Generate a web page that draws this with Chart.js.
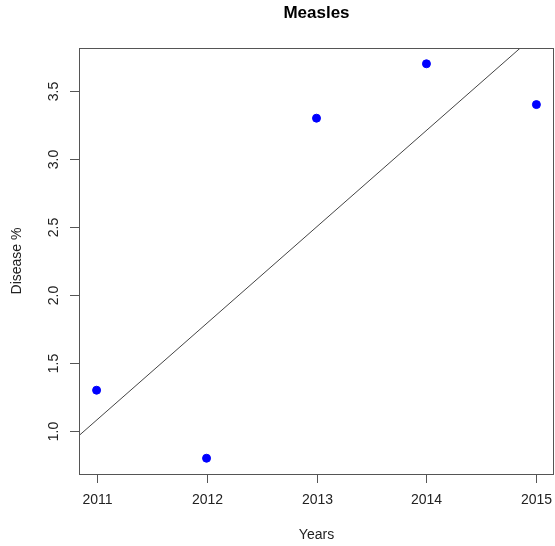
<!DOCTYPE html>
<html lang="en">
<head>
<meta charset="UTF-8">
<title>Measles</title>
<script src="https://cdn.jsdelivr.net/npm/chart.js@4.4.0/dist/chart.umd.min.js"></script>
<style>
    body { margin: 0; background: #fff; }
    canvas { display: block; }
</style>
</head>
<body>
<canvas id="chart" width="555" height="546"></canvas>
<script>
    // data
    var years = [2011, 2012, 2013, 2014, 2015];
    var diseasePct = [1.3, 0.8, 3.3, 3.7, 3.4];
    var xTicks = [2011, 2012, 2013, 2014, 2015];
    var yTicks = [1.0, 1.5, 2.0, 2.5, 3.0, 3.5];
    var titleText = "Measles";
    var xTitle = "Years";
    var yTitle = "Disease %";

    var FONT = '"Liberation Sans", Arial, sans-serif';

    // R style axis range: data range padded by 4% each side
    function padRange(arr) {
        var lo = Math.min.apply(null, arr), hi = Math.max.apply(null, arr);
        var d = (hi - lo) * 0.04;
        return [lo - d, hi + d];
    }
    var xr = padRange(years), yr = padRange(diseasePct);

    // least squares fit, like abline(lm(y ~ x))
    function fit(xs, ys) {
        var n = xs.length, mx = 0, my = 0;
        for (var i = 0; i < n; i++) { mx += xs[i]; my += ys[i]; }
        mx /= n; my /= n;
        var sxy = 0, sxx = 0;
        for (i = 0; i < n; i++) {
            sxy += (xs[i] - mx) * (ys[i] - my);
            sxx += (xs[i] - mx) * (xs[i] - mx);
        }
        var b = sxy / sxx;
        return {a: my - b * mx, b: b};
    }
    var lm = fit(years, diseasePct);
    var fitPoints = [xr[0], xr[1]].map(function (x) { return {x: x, y: lm.a + lm.b * x}; });

    var points = years.map(function (y, i) { return {x: y, y: diseasePct[i]}; });

    var rAxes = {
        id: 'rAxes',
        afterDraw: function (chart) {
            var ctx = chart.ctx, a = chart.chartArea;
            var xs = chart.scales.x, ys = chart.scales.y;
            ctx.save();
            ctx.strokeStyle = '#555';
            ctx.lineWidth = 1;
            ctx.strokeRect(Math.round(a.left) + 0.5, Math.round(a.top) + 0.5,
                Math.round(a.right - a.left) - 1, Math.round(a.bottom - a.top));

            ctx.fillStyle = '#222';
            ctx.font = '14px ' + FONT;
            ctx.textAlign = 'center';
            ctx.textBaseline = 'middle';
            xTicks.forEach(function (t) {
                var px = Math.round(xs.getPixelForValue(t)) + 0.5;
                ctx.beginPath();
                ctx.moveTo(px, a.bottom);
                ctx.lineTo(px, a.bottom + 9);
                ctx.stroke();
                ctx.fillText(String(t), px, a.bottom + 26);
            });
            yTicks.forEach(function (t) {
                var py = Math.round(ys.getPixelForValue(t)) + 0.5;
                ctx.beginPath();
                ctx.moveTo(a.left - 9, py);
                ctx.lineTo(a.left, py);
                ctx.stroke();
                ctx.save();
                ctx.translate(a.left - 25, py);
                ctx.rotate(-Math.PI / 2);
                ctx.fillText(t.toFixed(1), 0, 0);
                ctx.restore();
            });

            var cx = (a.left + a.right) / 2, cy = (a.top + a.bottom) / 2;
            ctx.fillText(xTitle, cx, 535);
            ctx.save();
            ctx.translate(17, cy);
            ctx.rotate(-Math.PI / 2);
            ctx.fillText(yTitle, 0, 0);
            ctx.restore();

            ctx.fillStyle = '#000';
            ctx.font = 'bold 17px ' + FONT;
            ctx.fillText(titleText, cx, 13);
            ctx.restore();
        }
    };

    new Chart(document.getElementById('chart').getContext('2d'), {
        type: 'scatter',
        data: {
            datasets: [{
                data: points,
                backgroundColor: '#0000ff',
                borderColor: '#0000ff',
                pointRadius: 4,
                pointHoverRadius: 4
            }, {
                type: 'line',
                data: fitPoints,
                borderColor: '#444',
                borderWidth: 1,
                pointRadius: 0,
                fill: false
            }]
        },
        options: {
            responsive: false,
            animation: false,
            layout: {autoPadding: false, padding: {left: 79, top: 48, right: 1, bottom: 72}},
            plugins: {legend: {display: false}, tooltip: {enabled: false}, title: {display: false}},
            scales: {
                x: {type: 'linear', min: xr[0], max: xr[1], display: false},
                y: {type: 'linear', min: yr[0], max: yr[1], display: false}
            }
        },
        plugins: [rAxes]
    });
</script>
</body>
</html>
